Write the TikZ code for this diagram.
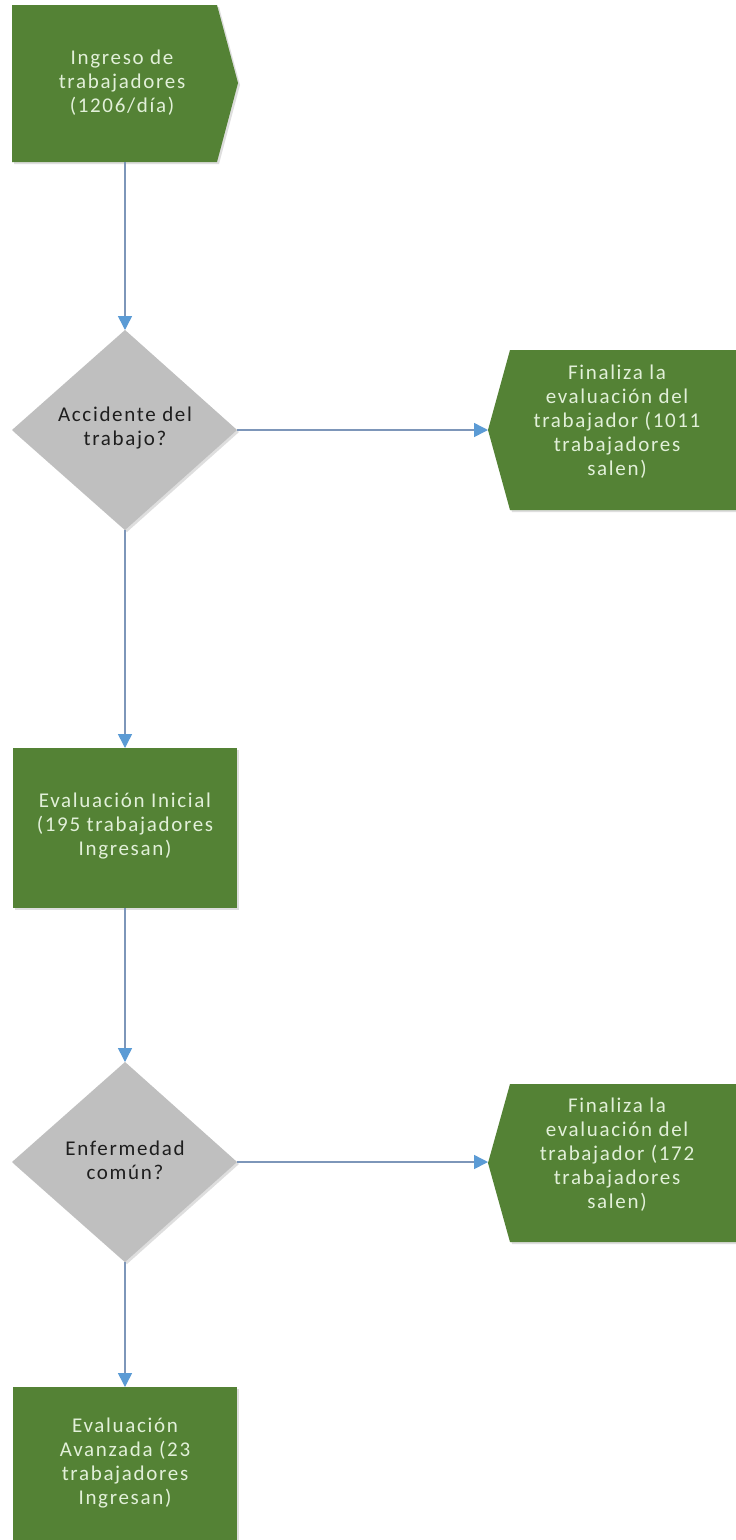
\documentclass[tikz,border=0pt]{standalone}
\usepackage{fontspec}
\setmainfont{Carlito}[LetterSpace=8]
\usetikzlibrary{arrows.meta}
\definecolor{boxgreen}{RGB}{84,130,53}
\definecolor{boxtext}{RGB}{226,240,217}
\definecolor{decgray}{RGB}{191,191,191}
\definecolor{dectext}{RGB}{30,30,30}
\definecolor{arrline}{RGB}{125,150,185}
\definecolor{arrhead}{RGB}{91,155,213}
\definecolor{shadowc}{RGB}{200,200,200}
\tikzset{
  greenshape/.style={fill=boxgreen, draw=none},
  grayshape/.style={fill=decgray, draw=none},
  shadowshape/.style={fill=shadowc, draw=none, opacity=0.6},
  greentext/.style={text=boxtext, align=center, font=\fontsize{21}{24}\selectfont},
  graytext/.style={text=dectext, align=center, font=\fontsize{21}{24}\selectfont},
  flow/.style={draw=arrline, line width=1.5pt, -{Triangle[length=14pt,width=14pt,fill=arrhead,color=arrhead]}}
}
\begin{document}
\begin{tikzpicture}[x=1pt,y=-1pt]
\useasboundingbox (0,0) rectangle (736,1540);
\fill[white] (0,0) rectangle (736,1540);

% ---- shape outlines (shadows first) ----
\fill[shadowshape] (14,7) -- (219,7) -- (240,85) -- (219,164) -- (14,164) -- cycle;
\fill[greenshape] (12,5) -- (217,5) -- (238,83) -- (217,162) -- (12,162) -- cycle;

\fill[shadowshape] (127,332) -- (239,432) -- (127,532) -- (14,432) -- cycle;
\fill[grayshape] (125,330) -- (237,430) -- (125,530) -- (12,430) -- cycle;

\fill[shadowshape] (512,352) -- (740,352) -- (740,512) -- (512,512) -- (490,432) -- cycle;
\fill[greenshape] (510,350) -- (740,350) -- (740,510) -- (510,510) -- (488,430) -- cycle;

\fill[shadowshape] (15,750) rectangle (239,910);
\fill[greenshape] (13,748) rectangle (237,908);

\fill[shadowshape] (127,1064) -- (239,1164) -- (127,1264) -- (14,1164) -- cycle;
\fill[grayshape] (125,1062) -- (237,1162) -- (125,1262) -- (12,1162) -- cycle;

\fill[shadowshape] (512,1086) -- (740,1086) -- (740,1244) -- (512,1244) -- (490,1165) -- cycle;
\fill[greenshape] (510,1084) -- (740,1084) -- (740,1242) -- (510,1242) -- (488,1163) -- cycle;

\fill[shadowshape] (15,1389) rectangle (239,1545);
\fill[greenshape] (13,1387) rectangle (237,1545);

% ---- named coordinates for connector ends ----
\coordinate (ingBot) at (125,162);
\coordinate (d1Top) at (125,330);
\coordinate (d1Right) at (237,430);
\coordinate (d1Bot) at (125,530);
\coordinate (f1Left) at (488,430);
\coordinate (eiTop) at (125,748);
\coordinate (eiBot) at (125,908);
\coordinate (d2Top) at (125,1062);
\coordinate (d2Right) at (237,1162);
\coordinate (d2Bot) at (125,1262);
\coordinate (f2Left) at (488,1162);
\coordinate (eaTop) at (125,1387);

% ---- texts ----
\node[greentext] (ingreso) at (122,83) {Ingreso de\\trabajadores\\(1206/día)};
\node[graytext] (acc) at (125,428) {Accidente del\\trabajo?};
\node[greentext] (fin1) at (617,422) {Finaliza la\\evaluación del\\trabajador (1011\\trabajadores\\salen)};
\node[greentext] (evini) at (125,826) {Evaluación Inicial\\(195 trabajadores\\Ingresan)};
\node[graytext] (enf) at (125,1160) {Enfermedad\\común?};
\node[greentext] (fin2) at (617,1155) {Finaliza la\\evaluación del\\trabajador (172\\trabajadores\\salen)};
\node[greentext] (evav) at (125,1463) {Evaluación\\Avanzada (23\\trabajadores\\Ingresan)};

% ---- connectors ----
\draw[flow] (ingBot) -- (d1Top);
\draw[flow] (d1Right) -- (f1Left);
\draw[flow] (d1Bot) -- (eiTop);
\draw[flow] (eiBot) -- (d2Top);
\draw[flow] (d2Right) -- (f2Left);
\draw[flow] (d2Bot) -- (eaTop);
\end{tikzpicture}
\end{document}
